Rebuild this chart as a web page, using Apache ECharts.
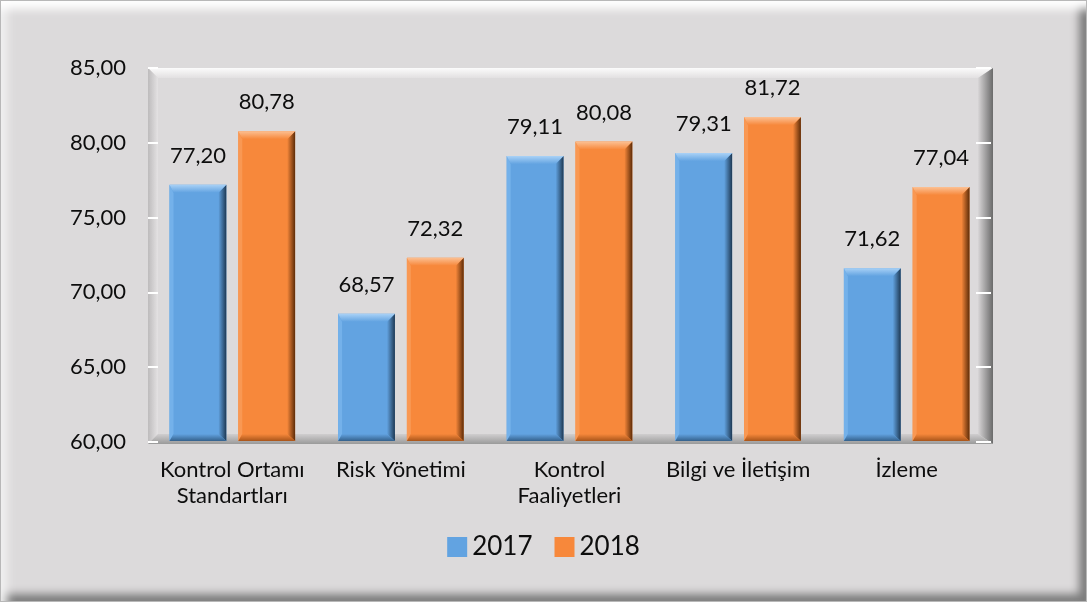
<!DOCTYPE html>
<html>
<head>
<meta charset="utf-8">
<script src="https://cdn.jsdelivr.net/npm/echarts@6/dist/echarts.min.js"></script>
<style>
  html, body { margin: 0; padding: 0; background: #ffffff; }
  #chart {
    width: 1087px; height: 602px; box-sizing: border-box;
    background: #dcdadb;
    border: 1px solid #b8b8b8;
    box-shadow: inset 0 16px 10px -8px #ffffff, inset 14px 0 10px -8px #f2f2f2,
                inset -12px 0 8px -5px #7d7d7d, inset 0 -12px 8px -5px #7d7d7d;
  }
</style>
</head>
<body>
<div id="chart"></div>
<script>
  // veriler
  const categories = ['Kontrol Ortamı\nStandartları', 'Risk Yönetimi', 'Kontrol\nFaaliyetleri', 'Bilgi ve İletişim', 'İzleme']
  const years = ['2017', '2018']
  const values2017 = [77.20, 68.57, 79.11, 79.31, 71.62]
  const values2018 = [80.78, 72.32, 80.08, 81.72, 77.04]
  const yTicks = [60, 65, 70, 75, 80, 85]

  const yMin = yTicks[0]
  const yMax = yTicks[yTicks.length - 1]
  const fmt = v => Number(v).toFixed(2).replace('.', ',')
  const font = 'Lato, "Open Sans", sans-serif'

  // kabartmalı sütun çizimi
  function bevelBar(c, offset) {
    return function (params, api) {
      const idx = api.value(0)
      const v = api.value(1)
      const band = api.size([1, 0])[0]
      const w = band * 0.337
      const top = api.coord([idx, v])
      const base = api.coord([idx, yMin])
      const x0 = top[0] + band * offset - w / 2
      const x1 = x0 + w
      const y0 = top[1]
      const y1 = base[1] - 1
      const t = 8, l = 4, r = 8, b = 7
      return {
        type: 'group',
        children: [
          {type: 'rect', shape: {x: x0, y: y0, width: w, height: y1 - y0}, style: {fill: c.main}},
          {type: 'polygon', shape: {points: [[x0, y0], [x0 + l, y0 + t], [x0 + l, y1 - b], [x0, y1]]}, style: {fill: c.left}},
          {type: 'polygon', shape: {points: [[x1, y0], [x1, y1], [x1 - r, y1 - b], [x1 - r, y0 + t]]},
            style: {fill: new echarts.graphic.LinearGradient(0, 0, 1, 0, [{offset: 0, color: c.main}, {offset: 1, color: c.dark}])}},
          {type: 'polygon', shape: {points: [[x0, y1], [x1, y1], [x1 - r, y1 - b], [x0 + l, y1 - b]]},
            style: {fill: new echarts.graphic.LinearGradient(0, 0, 0, 1, [{offset: 0, color: c.main}, {offset: 1, color: c.bottom}])}},
          {type: 'polygon', shape: {points: [[x0, y0], [x1, y0], [x1 - r, y0 + t], [x0 + l, y0 + t]]},
            style: {fill: new echarts.graphic.LinearGradient(0, 0, 0, 1, [{offset: 0, color: c.light}, {offset: 1, color: c.main}])}},
          {type: 'text', style: {text: fmt(v), x: (x0 + x1) / 2, y: y0 - 29, align: 'center', verticalAlign: 'middle',
            fill: '#0d0d0d', font: '22px ' + font}}
        ]
      }
    }
  }

  const blue = {main: '#62a3e1', left: '#74b1ea', light: '#a9d1f6', dark: '#1e3954', bottom: '#35618c'}
  const orange = {main: '#f7883b', left: '#f99853', light: '#fcc093', dark: '#5e2c08', bottom: '#a9551a'}

  // çizim alanı kenar çerçevesi
  const gx0 = 147, gy0 = 67, gx1 = 992, gy1 = 443
  const lg = (x0, y0, x1, y1, a, b) => new echarts.graphic.LinearGradient(x0, y0, x1, y1, [{offset: 0, color: a}, {offset: 1, color: b}])
  const bev = (pts, g) => ({type: 'polygon', silent: true, shape: {points: pts}, style: {fill: g}})

  const chart = echarts.init(document.getElementById('chart'))
  chart.setOption({
    backgroundColor: 'transparent',
    textStyle: {fontFamily: font},
    graphic: {
      elements: [
        bev([[gx0, gy0], [gx1, gy0], [gx1 - 15, gy0 + 10], [gx0 + 10, gy0 + 10]], lg(0, 0, 0, 1, '#fbfbfb', '#e2e0e1')),
        bev([[gx0, gy0], [gx0 + 10, gy0 + 10], [gx0 + 10, gy1 - 10], [gx0, gy1]], lg(0, 0, 1, 0, '#bdbbbc', '#e4e2e3')),
        bev([[gx1, gy0], [gx1, gy1], [gx1 - 15, gy1 - 10], [gx1 - 15, gy0 + 10]], lg(0, 0, 1, 0, '#d8d6d7', '#6a6a6a')),
        bev([[gx0, gy1], [gx1, gy1], [gx1 - 15, gy1 - 10], [gx0 + 10, gy1 - 10]], lg(0, 0, 0, 1, '#d0cecf', '#9a9a9a'))
      ]
    },
    grid: {left: gx0, right: 1087 - gx1, top: gy0, bottom: 602 - gy1},
    legend: {
      data: years,
      bottom: 36,
      left: 'center',
      itemWidth: 20,
      itemHeight: 20,
      itemGap: 22,
      icon: 'rect',
      textStyle: {fontSize: 26, color: '#0d0d0d', fontFamily: font}
    },
    xAxis: {
      type: 'category',
      data: categories,
      axisLine: {show: false},
      axisTick: {show: false},
      axisLabel: {fontSize: 22, lineHeight: 26, color: '#0d0d0d', margin: 15, interval: 0}
    },
    yAxis: [
      {
        type: 'value', min: yMin, max: yMax, interval: 5,
        axisLine: {show: false},
        axisTick: {show: true, inside: true, length: 10, lineStyle: {color: '#ffffff', width: 2}},
        splitLine: {show: false},
        axisLabel: {formatter: fmt, fontSize: 22, color: '#0d0d0d', margin: 22}
      },
      {
        type: 'value', min: yMin, max: yMax, interval: 5, position: 'right',
        axisLine: {show: false},
        axisTick: {show: true, inside: true, length: 15, lineStyle: {color: '#ffffff', width: 2}},
        splitLine: {show: false},
        axisLabel: {show: false}
      }
    ],
    series: [
      {
        name: years[0], type: 'custom', itemStyle: {color: blue.main},
        renderItem: bevelBar(blue, -0.204),
        data: values2017.map((v, i) => [i, v])
      },
      {
        name: years[1], type: 'custom', itemStyle: {color: orange.main},
        renderItem: bevelBar(orange, 0.204),
        data: values2018.map((v, i) => [i, v])
      }
    ]
  })
</script>
</body>
</html>
